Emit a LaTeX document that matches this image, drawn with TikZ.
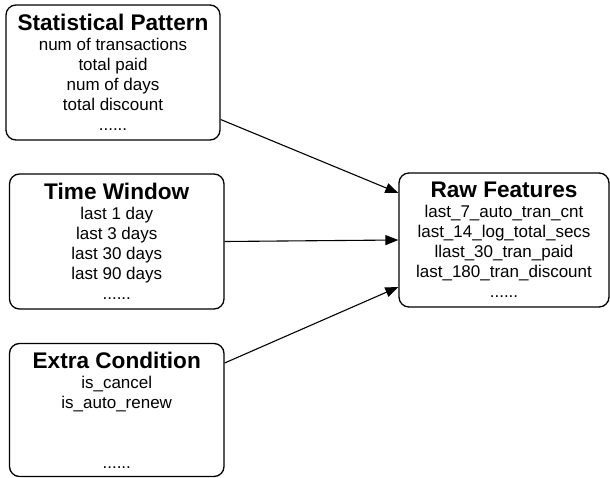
\documentclass[tikz,border=0pt]{standalone}
\usepackage{fontspec}
\setmainfont{Liberation Sans}
\usetikzlibrary{arrows.meta}
\newcommand{\fhead}[1]{{\fontsize{22.6}{20}\selectfont\bfseries #1}}
\tikzset{
  featbox/.style={draw,line width=1.3pt,rounded corners=10pt,align=center,
    inner sep=0pt,font=\fontsize{17}{20}\selectfont},
  featarrow/.style={line width=1.1pt,-{Triangle[length=13pt,width=10pt]}}
}
\begin{document}
\begin{tikzpicture}[x=1pt,y=-1pt]
        \useasboundingbox (0,0) rectangle (610,478);
        \node[featbox,minimum width=214pt,minimum height=135pt] (stat) at (113,72.5)
          {\fhead{Statistical Pattern}\\num of transactions\\total paid\\num of days\\total discount\\......};
        \node[featbox,minimum width=214.5pt,minimum height=135pt] (time) at (116.75,241.5)
          {\fhead{Time Window}\\last 1 day\\last 3 days\\last 30 days\\last 90 days\\......};
        \node[featbox,minimum width=214.5pt,minimum height=133pt] (extra) at (116.75,410)
          {\fhead{Extra Condition}\\is\_cancel\\is\_auto\_renew\\\null\\\null\\......};
        \node[featbox,minimum width=210pt,minimum height=134pt] (raw) at (504,240)
          {\fhead{Raw Features}\\last\_7\_auto\_tran\_cnt\\last\_14\_log\_total\_secs\\llast\_30\_tran\_paid\\last\_180\_tran\_discount\\......};
        \foreach \src/\a/\b in {stat/-47/47,time/0/0,extra/47/-47}{
          \draw[featarrow] ([yshift=\a pt]\src.east) -- ([yshift=\b pt]raw.west);}
      \end{tikzpicture}
\end{document}
